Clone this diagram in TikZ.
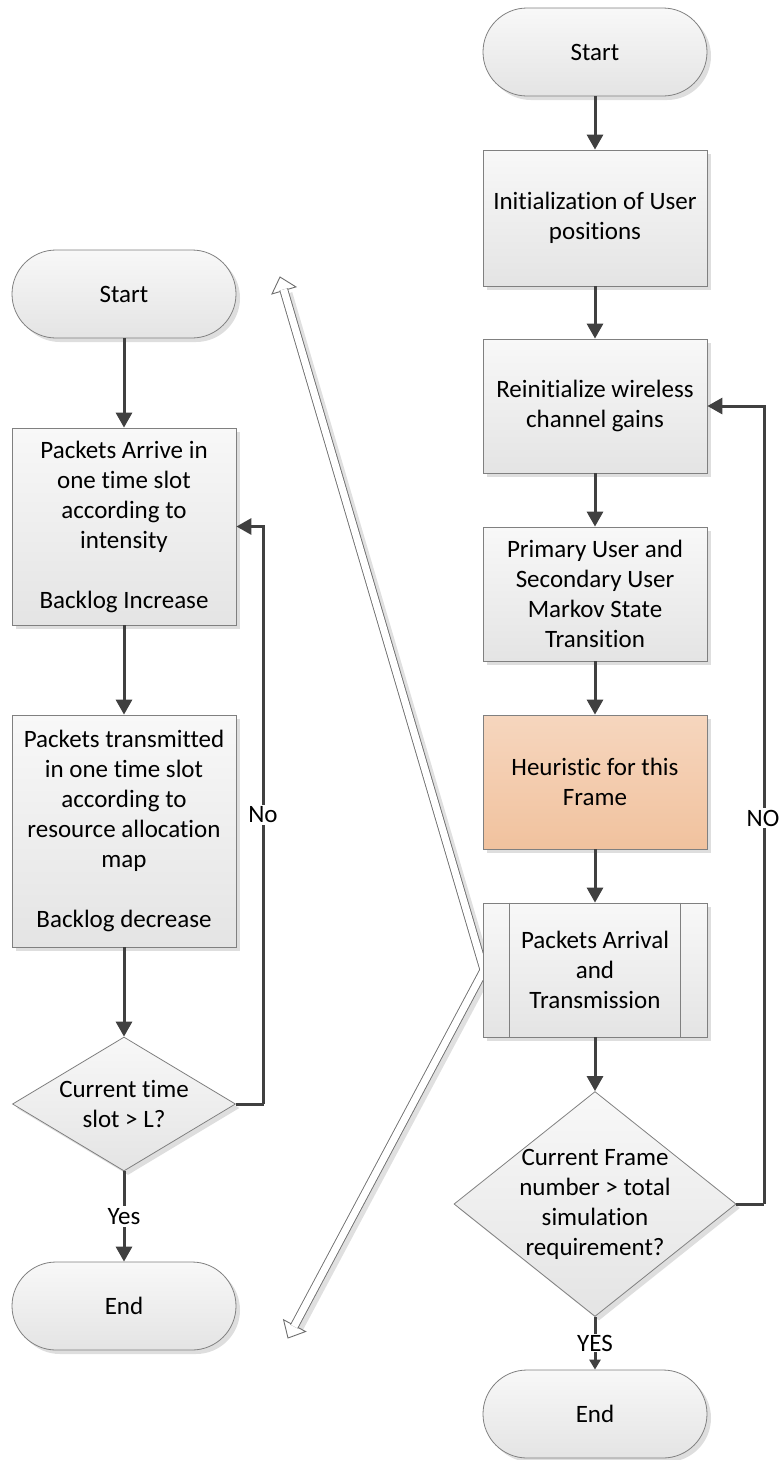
\documentclass[tikz,border=0pt]{standalone}
\usepackage{fontspec}
\setmainfont{Carlito}[Ligatures={NoCommon}]
\usetikzlibrary{arrows.meta,shapes.geometric,shadows,calc}
\definecolor{arr}{RGB}{64,64,64}
\definecolor{bord}{RGB}{128,128,128}
\definecolor{gtop}{RGB}{248,248,248}
\definecolor{gbot}{RGB}{228,228,228}
\definecolor{otop}{RGB}{246,214,190}
\definecolor{obot}{RGB}{241,194,158}
\definecolor{dline}{RGB}{110,110,110}
\tikzset{
  base/.style={draw=bord, line width=0.8pt, top color=gtop, bottom color=gbot,
    inner sep=0pt, align=center, font=\fontsize{25}{30}\selectfont,
    drop shadow={shadow xshift=4pt, shadow yshift=-4pt, fill=black, opacity=0.13}},
  term/.style={base, rectangle, rounded corners=44pt, minimum width=224pt, minimum height=88pt},
  proc/.style={base, rectangle, minimum width=224pt},
  heur/.style={proc, top color=otop, bottom color=obot},
  dia/.style={base, diamond, aspect=1},
  flow/.style={draw=arr, line width=3pt, -{Triangle[length=15pt,width=16pt]}},
  flowsmall/.style={draw=arr, line width=3pt, -{Triangle[length=10pt,width=11pt]}},
  plain/.style={draw=arr, line width=3pt},
  lbl/.style={fill=white, inner sep=2pt, font=\fontsize{25}{30}\selectfont},
  hollow/.style={draw=dline, line width=0.9pt, double=white, double distance=7pt, line join=miter},
  headst/.style={draw=dline, line width=0.9pt, fill=white, line join=miter},
}
\begin{document}
\begin{tikzpicture}[x=1pt, y=-1pt]
\useasboundingbox (0,0) rectangle (779,1460);

% ---------- hollow double arrow ----------
\coordinate (dt) at (280,277);
\coordinate (dm) at (484,970);
\coordinate (db) at (288,1338);
\coordinate (dtb) at ($(dt)!14pt!(dm)$);
\coordinate (dbb) at ($(db)!14pt!(dm)$);
% shadow
\draw[black!12, line width=9pt, line join=miter] ($(dtb)+(4,3)$) -- ($(dm)+(4,3)$) -- ($(dbb)+(4,3)$);
\path[headst] (dt) -- ($(dtb)!12.5pt!90:(dt)$) -- ($(dtb)!12.5pt!-90:(dt)$) -- cycle;
\path[headst] (db) -- ($(dbb)!12.5pt!90:(db)$) -- ($(dbb)!12.5pt!-90:(db)$) -- cycle;
\draw[hollow] ($(dt)!13pt!(dm)$) -- (dm) -- ($(db)!13pt!(dm)$);

% ---------- left flowchart ----------
\node[term] (sL) at (124,294) {Start};
\node[proc, minimum height=197pt] (L1) at (124,526.5)
  {Packets Arrive in\\one time slot\\according to\\intensity\\[30pt]Backlog Increase};
\node[proc, minimum height=232pt] (L2) at (124,831)
  {Packets transmitted\\in one time slot\\according to\\resource allocation\\map\\[30pt]Backlog decrease};
\node[dia, minimum width=223pt, minimum height=134pt] (dL) at (124,1104) {};
\node[align=center, font=\fontsize{25}{30}\selectfont, inner sep=0pt] (dLt) at (dL.center) {Current time\\slot > L?};
\node[term] (eL) at (124,1306) {End};

\draw[flow] (sL.south) -- (L1.north);
\draw[flow] (L1.south) -- (L2.north);
\draw[flow] (L2.south) -- (dL.north);
\draw[flow] (dL.south) -- node[lbl, pos=0.5] (yesL) {Yes} (eL.north);
\draw[plain] (dL.east) -- ++(28,0) coordinate (cL1);
\draw[flow] (cL1) -- (cL1 |- L1.east) -- (L1.east);
\node[lbl] (noL) at (263,815) {No};

% ---------- right flowchart ----------
\node[term] (sR) at (595,52) {Start};
\node[proc, minimum height=136pt] (R1) at (595,218) {Initialization of User\\positions};
\node[proc, minimum height=134pt] (R2) at (595,406) {Reinitialize wireless\\channel gains};
\node[proc, minimum height=134pt] (R3) at (595,594) {Primary User and\\Secondary User\\Markov State\\Transition};
\node[heur, minimum height=134pt] (R4) at (595,782) {Heuristic for this\\Frame};
\node[proc, minimum height=134pt] (R5) at (595,970) {Packets Arrival\\and\\Transmission};
\draw[bord, line width=0.8pt] ($(R5.north west)+(27,0)$) -- ($(R5.south west)+(27,0)$);
\draw[bord, line width=0.8pt] ($(R5.north east)+(-27,0)$) -- ($(R5.south east)+(-27,0)$);
\node[dia, minimum width=282pt, minimum height=225pt] (dR) at (595,1204) {};
\node[align=center, font=\fontsize{25}{30}\selectfont, inner sep=0pt] (dRt) at (dR.center)
  {Current Frame\\number > total\\simulation\\requirement?};
\node[term] (eR) at (595,1414) {End};

\draw[flow] (sR.south) -- (R1.north);
\draw[flow] (R1.south) -- (R2.north);
\draw[flow] (R2.south) -- (R3.north);
\draw[flow] (R3.south) -- (R4.north);
\draw[flow] (R4.south) -- (R5.north);
\draw[flow] (R5.south) -- (dR.north);
\draw[flowsmall] (dR.south) -- node[lbl, pos=0.5, inner sep=1pt] (yesR) {YES} (eR.north);
\draw[plain] (dR.east) -- ++(28,0) coordinate (cR1);
\draw[flow] (cR1) -- (cR1 |- R2.east) -- (R2.east);
\node[lbl] (noR) at (763,818) {NO};
\end{tikzpicture}
\end{document}
